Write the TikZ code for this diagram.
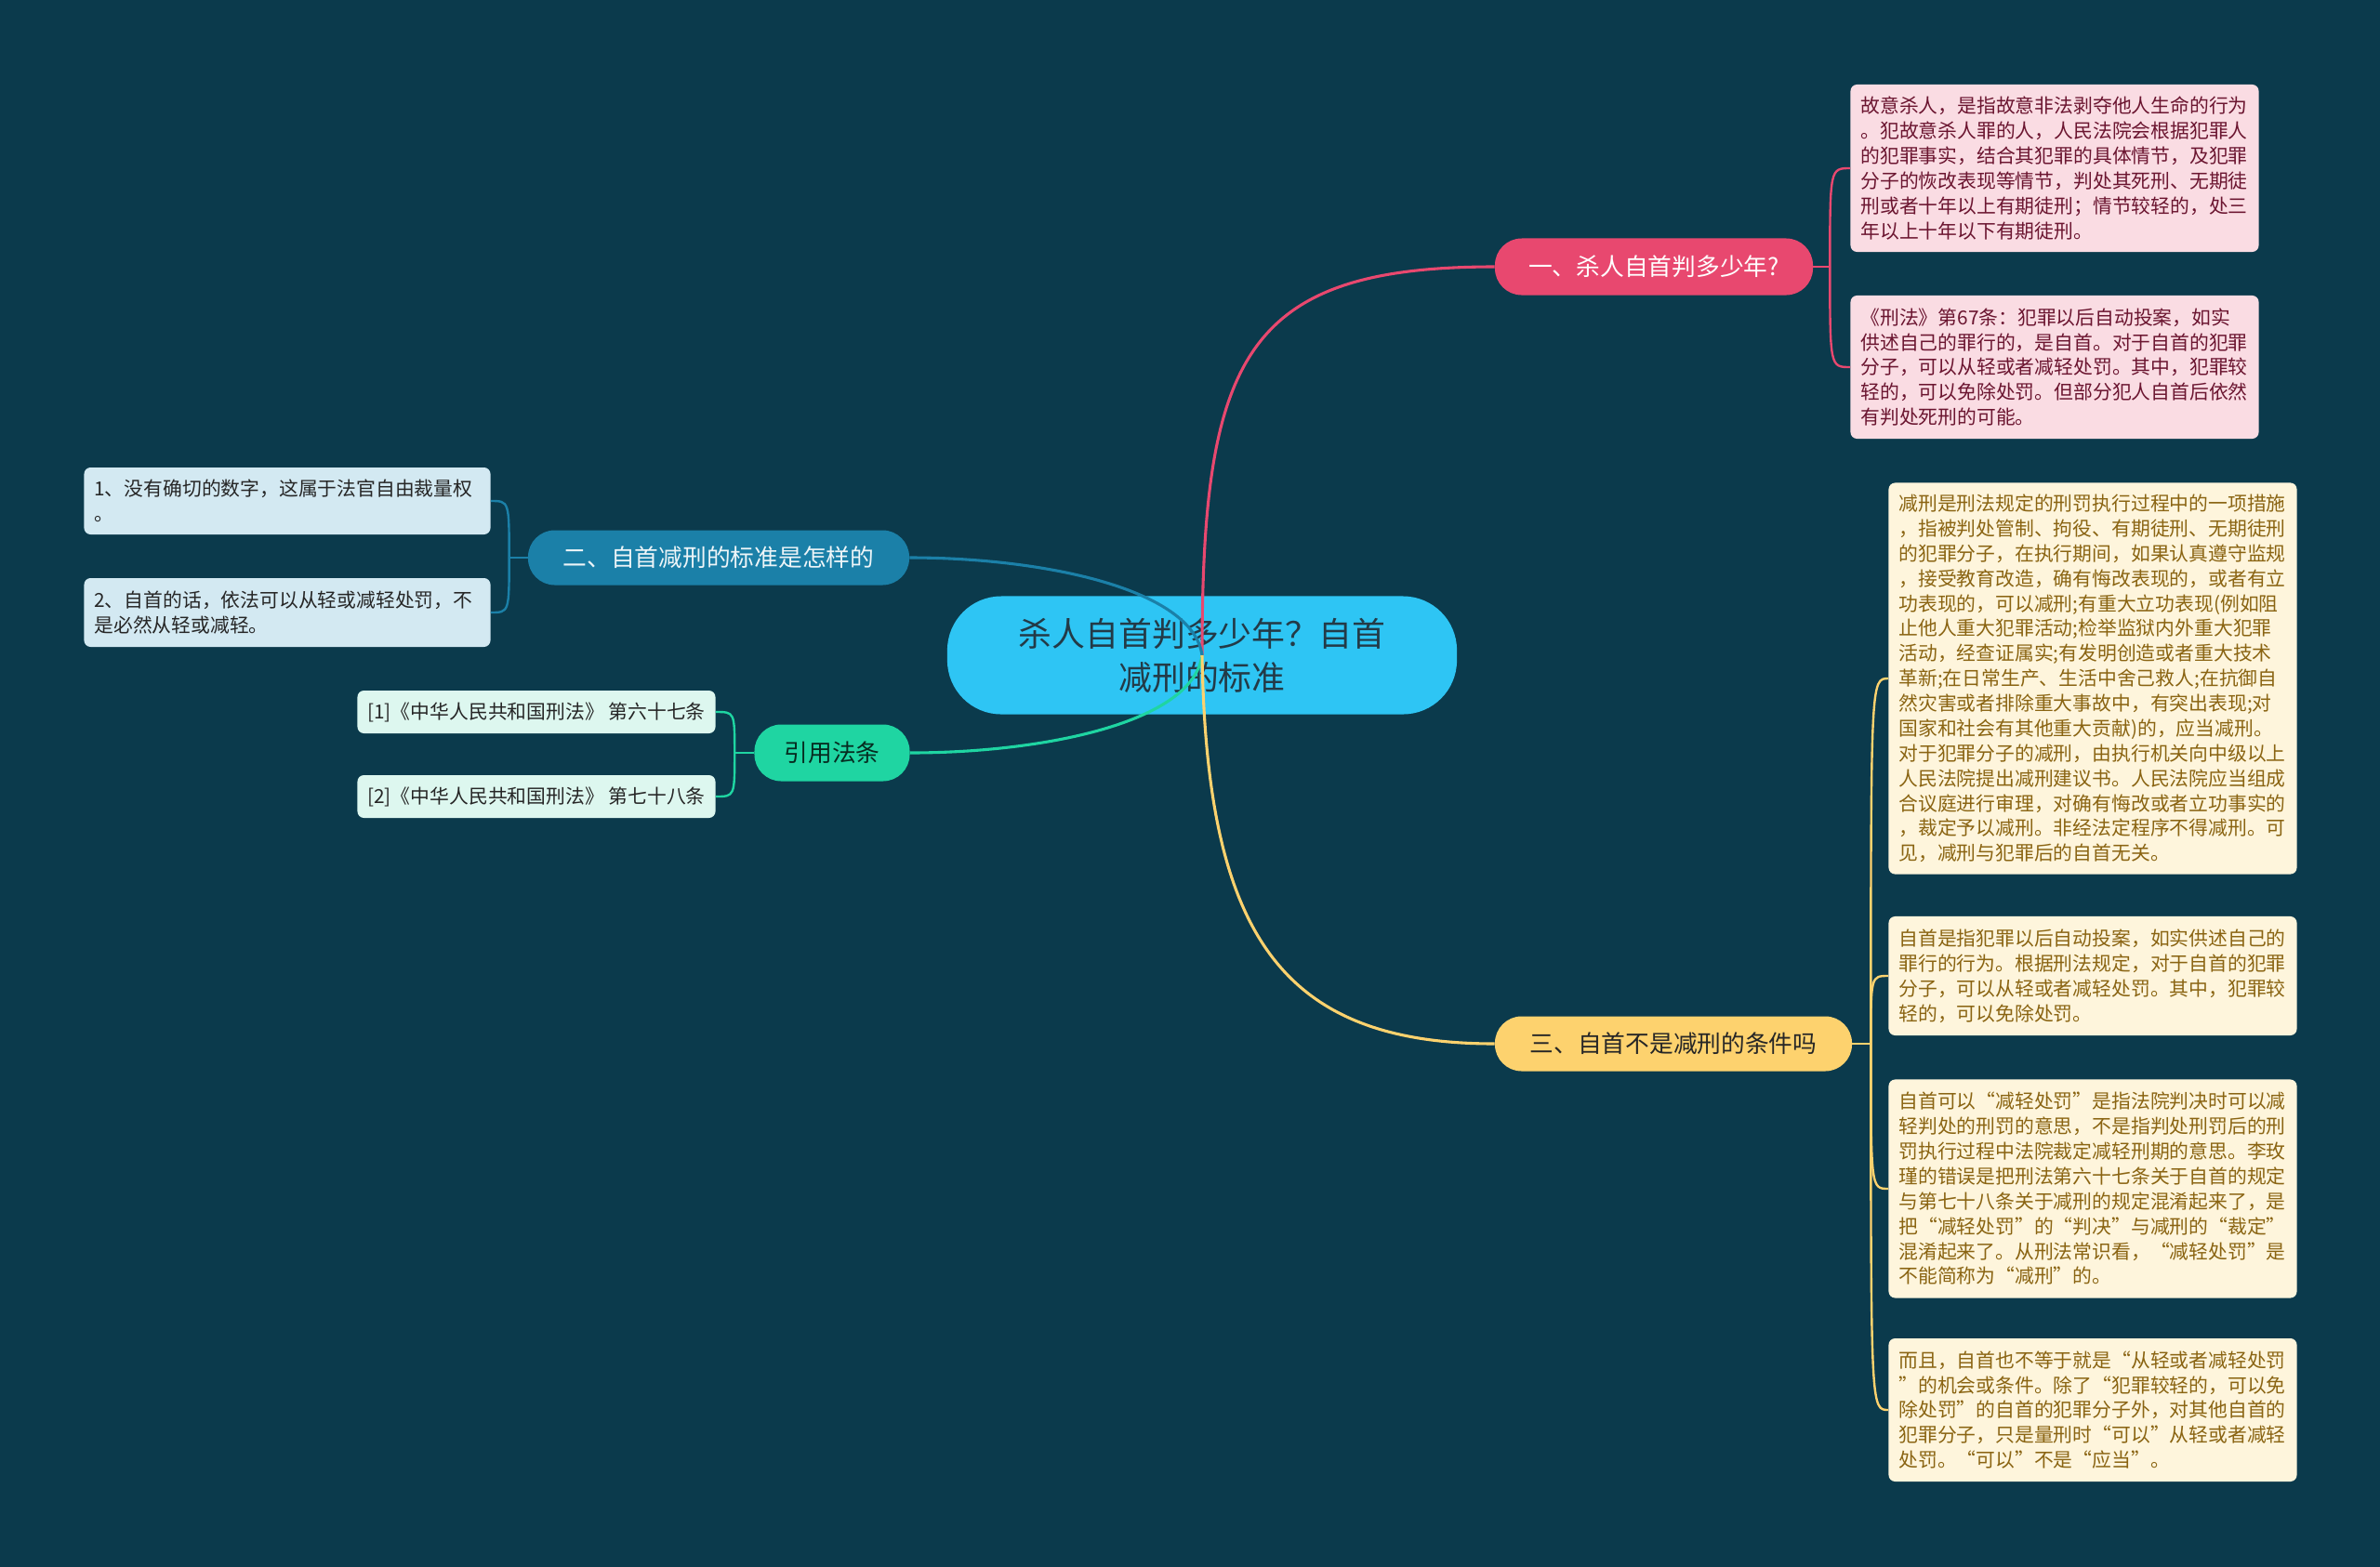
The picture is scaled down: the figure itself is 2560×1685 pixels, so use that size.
\documentclass[tikz,border=0pt]{standalone}
\usepackage{fontspec}
\setmainfont{Noto Sans CJK SC}
\usepackage{tikz}
\usetikzlibrary{positioning,calc}
\usepackage{xcolor}

\definecolor{bgdeep}{HTML}{0B3A4C}
\definecolor{rootblue}{HTML}{2EC5F4}
\definecolor{roottext}{HTML}{233A47}
\definecolor{killpink}{HTML}{E8486F}
\definecolor{pinkleaf}{HTML}{FADCE3}
\definecolor{pinkink}{HTML}{6B1530}
\definecolor{stdblue}{HTML}{1B80A8}
\definecolor{blueleaf}{HTML}{D3E9F2}
\definecolor{lawgreen}{HTML}{1FD5A2}
\definecolor{greenleaf}{HTML}{DDF7EF}
\definecolor{condgold}{HTML}{FDD26E}
\definecolor{goldleaf}{HTML}{FEF5DC}
\definecolor{goldink}{HTML}{8A6412}

\begin{document}
\begin{tikzpicture}[x=0.025cm, y=-0.025cm,
    topic/.style={rounded corners=0.72cm, inner sep=0pt, align=center, font=\fontsize{18.3pt}{22pt}\selectfont},
    leaf/.style={rounded corners=5pt, inner ysep=0pt, align=left, font=\fontsize{14.8pt}{19.1pt}\selectfont},
    mainlink/.style={line width=2.2pt},
    bracket/.style={line width=1.7pt}]

    % =========================================================================
    % Background
    % =========================================================================
    \useasboundingbox (0,0) rectangle (2560,1685);
    \fill[bgdeep] (-8,-8) rectangle (2568,1693);

    % =========================================================================
    % Central topic
    % =========================================================================
    \node[fill=rootblue, text=roottext, rounded corners=1.45cm, inner sep=0pt, align=center,
          minimum width=13.7cm, minimum height=3.175cm,
          font=\fontsize{25.5pt}{33.6pt}\selectfont] (root) at (1293,705)
        {杀人自首判多少年？自首\\减刑的标准};

    % =========================================================================
    % Branch 1: pink
    % =========================================================================
    \node[topic, fill=killpink, text=white, minimum width=8.55cm, minimum height=1.525cm] (kill) at (1779,287)
        {一、杀人自首判多少年?};
    \node[leaf, fill=pinkleaf, text=pinkink, minimum width=10.975cm, minimum height=4.5cm,
          text width=10.425cm, inner xsep=0.275cm] (kill1) at (2210,181)
        {故意杀人，是指故意非法剥夺他人生命的行为\\。犯故意杀人罪的人，人民法院会根据犯罪人\\的犯罪事实，结合其犯罪的具体情节，及犯罪\\分子的恢改表现等情节，判处其死刑、无期徒\\刑或者十年以上有期徒刑；情节较轻的，处三\\年以上十年以下有期徒刑。};
    \node[leaf, fill=pinkleaf, text=pinkink, minimum width=10.975cm, minimum height=3.85cm,
          text width=10.425cm, inner xsep=0.275cm] (kill2) at (2210,395)
        {《刑法》第67条：犯罪以后自动投案，如实\\供述自己的罪行的，是自首。对于自首的犯罪\\分子，可以从轻或者减轻处罚。其中，犯罪较\\轻的，可以免除处罚。但部分犯人自首后依然\\有判处死刑的可能。};

    % =========================================================================
    % Branch 2: blue
    % =========================================================================
    \node[topic, fill=stdblue, text=white!92!stdblue, minimum width=10.25cm, minimum height=1.475cm] (std) at (773,600)
        {二、自首减刑的标准是怎样的};
    \node[leaf, fill=blueleaf, text=black!85, minimum width=10.925cm, minimum height=1.8cm,
          text width=10.375cm, inner xsep=0.275cm] (std1) at (309,539)
        {1、没有确切的数字，这属于法官自由裁量权\\。};
    \node[leaf, fill=blueleaf, text=black!85, minimum width=10.925cm, minimum height=1.85cm,
          text width=10.375cm, inner xsep=0.275cm] (std2) at (309,659)
        {2、自首的话，依法可以从轻或减轻处罚，不\\是必然从轻或减轻。};

    % =========================================================================
    % Branch 3: green
    % =========================================================================
    \node[topic, fill=lawgreen, text=black!80!lawgreen, minimum width=4.175cm, minimum height=1.525cm] (law) at (895,810)
        {引用法条};
    \node[leaf, fill=greenleaf, text=black!85, minimum width=9.625cm, minimum height=1.15cm,
          inner xsep=0.2cm] (law1) at (577,766)
        {[1]《中华人民共和国刑法》~第六十七条};
    \node[leaf, fill=greenleaf, text=black!85, minimum width=9.625cm, minimum height=1.15cm,
          inner xsep=0.2cm] (law2) at (577,857)
        {[2]《中华人民共和国刑法》~第七十八条};

    % =========================================================================
    % Branch 4: gold
    % =========================================================================
    \node[topic, fill=condgold, text=black!85, minimum width=9.6cm, minimum height=1.475cm] (cond) at (1800,1123)
        {三、自首不是减刑的条件吗};
    \node[leaf, fill=goldleaf, text=goldink, minimum width=10.975cm, minimum height=10.525cm,
          text width=10.425cm, inner xsep=0.275cm] (cond1) at (2251,730)
        {减刑是刑法规定的刑罚执行过程中的一项措施\\，指被判处管制、拘役、有期徒刑、无期徒刑\\的犯罪分子，在执行期间，如果认真遵守监规\\，接受教育改造，确有悔改表现的，或者有立\\功表现的，可以减刑;有重大立功表现(例如阻\\止他人重大犯罪活动;检举监狱内外重大犯罪\\活动，经查证属实;有发明创造或者重大技术\\革新;在日常生产、生活中舍己救人;在抗御自\\然灾害或者排除重大事故中，有突出表现;对\\国家和社会有其他重大贡献)的，应当减刑。\\对于犯罪分子的减刑，由执行机关向中级以上\\人民法院提出减刑建议书。人民法院应当组成\\合议庭进行审理，对确有悔改或者立功事实的\\，裁定予以减刑。非经法定程序不得减刑。可\\见，减刑与犯罪后的自首无关。};
    \node[leaf, fill=goldleaf, text=goldink, minimum width=10.975cm, minimum height=3.2cm,
          text width=10.425cm, inner xsep=0.275cm] (cond2) at (2251,1050)
        {自首是指犯罪以后自动投案，如实供述自己的\\罪行的行为。根据刑法规定，对于自首的犯罪\\分子，可以从轻或者减轻处罚。其中，犯罪较\\轻的，可以免除处罚。};
    \node[leaf, fill=goldleaf, text=goldink, minimum width=10.975cm, minimum height=5.875cm,
          text width=10.425cm, inner xsep=0.275cm] (cond3) at (2251,1279)
        {自首可以“减轻处罚”是指法院判决时可以减\\轻判处的刑罚的意思，不是指判处刑罚后的刑\\罚执行过程中法院裁定减轻刑期的意思。李玫\\瑾的错误是把刑法第六十七条关于自首的规定\\与第七十八条关于减刑的规定混淆起来了，是\\把“减轻处罚”的“判决”与减刑的“裁定”\\混淆起来了。从刑法常识看，“减轻处罚”是\\不能简称为“减刑”的。};
    \node[leaf, fill=goldleaf, text=goldink, minimum width=10.975cm, minimum height=3.85cm,
          text width=10.425cm, inner xsep=0.275cm] (cond4) at (2251,1517)
        {而且，自首也不等于就是“从轻或者减轻处罚\\”的机会或条件。除了“犯罪较轻的，可以免\\除处罚”的自首的犯罪分子外，对其他自首的\\犯罪分子，只是量刑时“可以”从轻或者减轻\\处罚。“可以”不是“应当”。};

    % =========================================================================
    % Main links from the central topic
    % =========================================================================
    \draw[mainlink, killpink] (root.center) .. controls +(0,-320) and +(-270,0) .. (kill.west);
    \draw[mainlink, stdblue] (root.center) .. controls +(-10,-72) and +(142,0) .. (std.east);
    \draw[mainlink, lawgreen] (root.center) .. controls +(-10,73) and +(142,0) .. (law.east);
    \draw[mainlink, condgold] (root.center) .. controls +(5,300) and +(-230,0) .. (cond.west);

    % =========================================================================
    % Brackets to the leaves
    % =========================================================================
    \draw[bracket, killpink] (kill.east) -- ++(18,0) coordinate (kj);
    \foreach \leaf in {kill1, kill2} {
        \draw[bracket, killpink] (kj) .. controls (kj |- \leaf.west) and (kj |- \leaf.west) .. (\leaf.west);
    }

    \draw[bracket, stdblue] (std.west) -- ++(-20,0) coordinate (sj);
    \foreach \leaf in {std1, std2} {
        \draw[bracket, stdblue] (sj) .. controls (sj |- \leaf.east) and (sj |- \leaf.east) .. (\leaf.east);
    }

    \draw[bracket, lawgreen] (law.west) -- ++(-21,0) coordinate (lj);
    \foreach \leaf in {law1, law2} {
        \draw[bracket, lawgreen] (lj) .. controls (lj |- \leaf.east) and (lj |- \leaf.east) .. (\leaf.east);
    }

    \draw[bracket, condgold] (cond.east) -- ++(20,0) coordinate (cj);
    \foreach \leaf in {cond1, cond2, cond3, cond4} {
        \draw[bracket, condgold] (cj) .. controls (cj |- \leaf.west) and (cj |- \leaf.west) .. (\leaf.west);
    }

\end{tikzpicture}
\end{document}
